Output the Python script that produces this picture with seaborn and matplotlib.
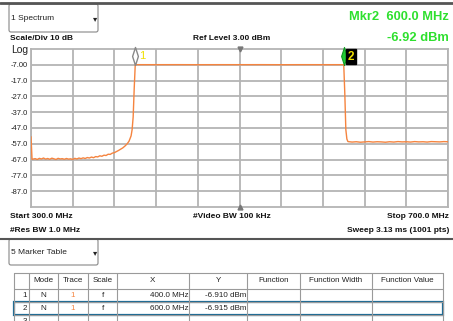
import numpy as np
import pandas as pd
import matplotlib
matplotlib.use("Agg")
import matplotlib.pyplot as plt
import matplotlib.transforms as mtransforms
from matplotlib.patches import Rectangle, FancyBboxPatch
import seaborn as sns

# spectrum trace (MHz, dBm)
freq_lo = [300, 301, 304, 306, 308, 310, 312, 314, 316, 318, 320, 322, 324, 326,
           328, 330, 332, 334, 336, 338, 340, 342, 344, 346, 348, 350, 352, 354,
           356, 358, 360, 362, 364, 366, 368, 370, 372, 374, 376, 378, 380, 382,
           384, 386, 388, 390, 392, 394, 396, 397, 398, 399]
level_lo = [-52.5, -66.8, -66.4, -66.9, -66.2, -66.6, -66.0, -66.7, -66.3, -66.8,
            -66.1, -66.5, -66.9, -66.2, -66.6, -66.4, -66.8, -66.3, -66.7, -66.5,
            -66.9, -66.2, -66.6, -66.0, -66.4, -65.9, -66.3, -65.7, -66.0, -65.4,
            -65.8, -65.1, -65.3, -64.6, -64.9, -64.2, -64.4, -63.6, -63.7, -62.9,
            -62.6, -61.9, -61.2, -60.4, -59.6, -58.5, -57.2, -55.4, -52.0, -48.0,
            -40.0, -22.0]
freq_mid = [400, 420, 440, 460, 480, 500, 520, 540, 560, 580, 600]
level_mid = [-6.91, -6.92, -6.90, -6.93, -6.91, -6.92, -6.90, -6.94, -6.91, -6.92, -6.915]
freq_hi = [601, 602, 603, 604, 608, 612, 616, 620, 624, 628, 632, 636, 640, 644,
           648, 652, 656, 660, 664, 668, 672, 676, 680, 684, 688, 692, 696, 700]
level_hi = [-25.0, -48.0, -54.0, -55.6, -55.9, -55.7, -56.0, -55.8, -55.6, -55.9,
            -55.7, -55.8, -56.0, -55.7, -55.9, -55.6, -55.8, -55.7, -55.9, -55.6,
            -55.8, -55.7, -55.9, -55.6, -55.7, -55.8, -55.6, -55.7]

# markers
mkr_id = ["1", "2"]
mkr_freq = [400.0, 600.0]
mkr_level = [-6.910, -6.915]

ref_level = 3.0
div_db = 10
n_div = 10
start_mhz, stop_mhz = 300.0, 700.0
ytick_vals = [-7, -17, -27, -37, -47, -57, -67, -77, -87]
ytick_text = ["-7.00", "-17.0", "-27.0", "-37.0", "-47.0", "-57.0", "-67.0", "-77.0", "-87.0"]

# marker table
table_head = ["", "Mode", "Trace", "Scale", "X", "Y", "Function", "Function Width", "Function Value"]
table_rows = [
    ["1", "N", "1", "f", "400.0 MHz", "-6.910 dBm", "", "", ""],
    ["2", "N", "1", "f", "600.0 MHz", "-6.915 dBm", "", "", ""],
    ["3", "", "", "", "", "", "", "", ""],
]

sns.set_style("white")
plt.rcParams['font.family'] = ['Liberation Sans Narrow', 'Liberation Sans', 'DejaVu Sans']

W, H = 453, 321
fig = plt.figure(figsize=(W / 100, H / 100), dpi=100)
fig.patch.set_facecolor("white")

# overlay in pixel coordinates for the screen furniture
ov = fig.add_axes([0, 0, 1, 1], zorder=0)
ov.set_xlim(0, W)
ov.set_ylim(H, 0)
ov.axis("off")

# plot area pixels
px_l, px_r, px_t, px_b = 31, 448, 49, 207
ax = fig.add_axes([px_l / W, 1 - px_b / H, (px_r - px_l) / W, (px_b - px_t) / H], zorder=2)

df = pd.DataFrame({"freq": freq_lo + freq_mid + freq_hi,
                   "level": level_lo + level_mid + level_hi})
sns.lineplot(data=df, x="freq", y="level", color="#f5843f", linewidth=1.0,
             ax=ax, sort=False, zorder=3)

ax.set_xlim(start_mhz, stop_mhz)
ax.set_ylim(ref_level - div_db * n_div, ref_level)
ax.set_xticks(np.linspace(start_mhz, stop_mhz, n_div + 1))
ax.set_xticklabels([])
ax.set_yticks(ytick_vals)
ax.set_yticklabels(ytick_text, fontsize=5.5, color="#222222")
ax.tick_params(axis="both", length=0, pad=2)
ax.grid(True, color="#b4b4b4", linewidth=1.3)
ax.set_xlabel("")
ax.set_ylabel("")
for s in ax.spines.values():
    s.set_color("#b4b4b4")
    s.set_linewidth(1.3)

# center triangles at 500 MHz
ax.plot([500], [ref_level], marker="v", color="#777777", markersize=3.5, clip_on=False, zorder=4)
ax.plot([500], [ref_level - div_db * n_div], marker="^", color="#777777", markersize=3.5,
        clip_on=False, zorder=4)

# marker symbols sitting on the trace (slim diamonds)
slim = [(0, -1), (0.32, 0), (0, 1), (-0.32, 0), (0, -1)]
up = mtransforms.offset_copy(ax.transData, fig=fig, y=9, units="dots")
ax.plot(mkr_freq[0], mkr_level[0], marker=slim, markersize=13, mfc="white", mec="#888888",
        mew=1.0, transform=up, clip_on=False, zorder=5)
ax.plot(mkr_freq[1], mkr_level[1], marker=slim, markersize=13, mfc="#22cc33", mec="#119922",
        mew=0.8, transform=up, clip_on=False, zorder=5)
lab1 = mtransforms.offset_copy(ax.transData, fig=fig, x=4, y=9, units="dots")
ax.text(mkr_freq[0], mkr_level[0], mkr_id[0], transform=lab1, color="#f0e000",
        fontsize=8, ha="left", va="center", zorder=6)
lab2 = mtransforms.offset_copy(ax.transData, fig=fig, x=4, y=8, units="dots")
ax.text(mkr_freq[1], mkr_level[1], mkr_id[1], transform=lab2, color="#f0e000",
        fontsize=8.5, fontweight="bold", ha="left", va="center", zorder=6,
        bbox=dict(boxstyle="square,pad=0.15", fc="black", ec="black"))

# frame lines
ov.plot([0, W], [3, 3], color="#555555", linewidth=2)
ov.plot([0, W], [238.5, 238.5], color="#555555", linewidth=1.5)

# dropdown boxes
for y0, y1, label in [(4, 32, "1 Spectrum"), (239, 265, "5 Marker Table")]:
    ov.add_patch(FancyBboxPatch((9, y0), 89, y1 - y0, boxstyle="round,pad=0,rounding_size=2",
                                fc="white", ec="#888888", lw=0.8))
    ov.text(11, (y0 + y1) / 2 + 1, label, fontsize=6, va="center", ha="left", color="#222222")
    ov.text(95, (y0 + y1) / 2 + 1, "\u25be", fontsize=6, va="center", ha="center",
            color="#222222", family=["DejaVu Sans"])

txt = dict(fontsize=6.0, color="#111111", fontweight="bold", va="center")
ov.text(10, 39, "Scale/Div 10 dB", ha="left", **txt)
ov.text(193, 39, "Ref Level 3.00 dBm", ha="left", **txt)
ov.text(11, 50, "Log", ha="left", fontsize=7.5, color="#222222", va="center")
ov.text(10, 217, "Start 300.0 MHz", ha="left", **txt)
ov.text(193, 217, "#Video BW 100 kHz", ha="left", **txt)
ov.text(449, 217, "Stop 700.0 MHz", ha="right", **txt)
ov.text(10, 230, "#Res BW 1.0 MHz", ha="left", **txt)
ov.text(449, 230, "Sweep 3.13 ms (1001 pts)", ha="right", **txt)

ov.text(449, 17, "Mkr2  600.0 MHz", ha="right", va="center", fontsize=9.3,
        fontweight="bold", color="#2ee02e")
ov.text(449, 38, "-6.92 dBm", ha="right", va="center", fontsize=9.3,
        fontweight="bold", color="#2ee02e")

# marker table grid
col_x = [14, 29, 58, 88, 117, 189, 247, 300, 372, 443]
row_y = [273, 289, 302, 315, 328]
tcol = "#9a9a9a"
for x in col_x:
    ov.plot([x, x], [row_y[0], H], color=tcol, linewidth=0.8)
for y in row_y[:-1]:
    ov.plot([col_x[0], col_x[-1]], [y, y], color=tcol, linewidth=0.8)
for j, h in enumerate(table_head):
    ov.text((col_x[j] + col_x[j + 1]) / 2, (row_y[0] + row_y[1]) / 2, h, ha="center",
            va="center", fontsize=5.8, color="#222222")
for i, row in enumerate(table_rows):
    yc = (row_y[i + 1] + row_y[i + 2]) / 2
    for j, v in enumerate(row):
        if not v:
            continue
        if j == 0:
            ov.text(col_x[1] - 2, yc, v, ha="right", va="center", fontsize=5.8, color="#222222")
        elif j in (4, 5):
            ov.text(col_x[j + 1] - 1, yc, v, ha="right", va="center", fontsize=5.8, color="#222222")
        else:
            c = "#f5843f" if j == 2 else "#222222"
            ov.text((col_x[j] + col_x[j + 1]) / 2, yc, v, ha="center", va="center",
                    fontsize=5.8, color=c)
ov.add_patch(Rectangle((col_x[0], row_y[2]), col_x[-1] - col_x[0], row_y[3] - row_y[2],
                       fill=False, ec="#1c6a94", lw=1.6))

fig.savefig("out.png", dpi=100)
